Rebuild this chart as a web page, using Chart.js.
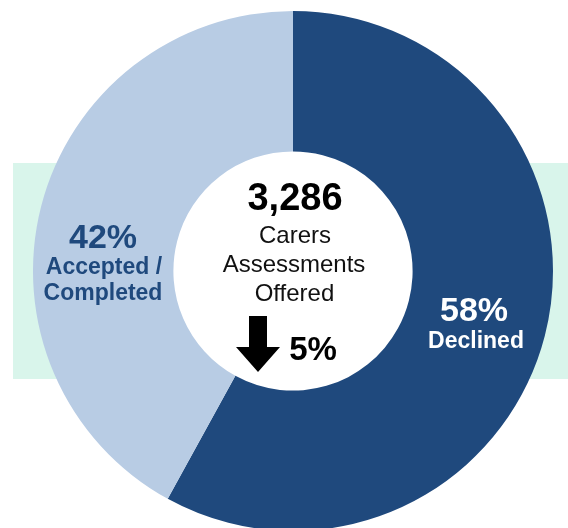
<!DOCTYPE html>
<html>
<head>
<meta charset="utf-8">
<script src="https://cdn.jsdelivr.net/npm/chart.js@4/dist/chart.umd.min.js"></script>
<style>
  html, body { margin:0; padding:0; }
  body { width:568px; height:528px; overflow:hidden; background:#ffffff; position:relative; font-family:'Liberation Sans', Arial, sans-serif; }
  .band { position:absolute; left:13px; top:163px; width:555px; height:216px; background:#d9f5eb; }
  .wrap { position:absolute; left:33px; top:11px; width:520px; height:520px; }
  .lbl { position:absolute; white-space:nowrap; line-height:1; transform:translateX(-50%); }
  .arrow { position:absolute; left:234px; top:316px; }
</style>
</head>
<body>
<div class="band"></div>
<div class="wrap"><canvas id="donut" width="520" height="520"></canvas></div>
<div id="labels"></div>
<svg class="arrow" width="48" height="58" viewBox="0 0 48 58">
  <polygon points="15,0 33,0 33,31 46,31 24,56 2,31 15,31" fill="#000"/>
</svg>
<script>
// slices, clockwise from 12 o'clock
const categories = ['Declined', 'Accepted / Completed'];
const shares     = [58, 42];
const colors     = ['#1f497d', '#b8cce4'];

const total      = '3,286';
const subtitle   = ['Carers', 'Assessments', 'Offered'];
const change     = '5%';

// white hole behind the cutout (band sits under the donut)
const holePlugin = {
  id: 'hole',
  beforeDatasetsDraw(chart) {
    const arc = chart.getDatasetMeta(0).data[0];
    if (!arc) return;
    const c = chart.ctx;
    c.save();
    c.beginPath();
    c.arc(arc.x, arc.y, arc.innerRadius + 1, 0, Math.PI * 2);
    c.fillStyle = '#ffffff';
    c.fill();
    c.restore();
  }
};

new Chart(document.getElementById('donut').getContext('2d'), {
  type: 'doughnut',
  data: {
    labels: categories,
    datasets: [{ data: shares, backgroundColor: colors, borderWidth: 0, hoverOffset: 0 }],
  },
  options: {
    responsive: false, animation: false, cutout: '46%', rotation: 0,
    layout: { padding: 0 },
    plugins: { legend: { display: false }, tooltip: { enabled: false } },
  },
  plugins: [holePlugin],
});

// text labels: [text, centre x, baseline y, size, weight, colour]
const labels = [
  [shares[1] + '%', 103, 247.5, 34, 'bold', '#1f497d'],
  ['Accepted /',    104, 274,   23, 'bold', '#1f497d'],
  ['Completed',     103, 300.5, 23, 'bold', '#1f497d'],
  [shares[0] + '%', 474, 321,   34, 'bold', '#ffffff'],
  [categories[0],   476, 348,   23, 'bold', '#ffffff'],
  [total,           295, 210,   38, 'bold', '#000000'],
  [subtitle[0],     295, 243,   24, 'normal', '#111111'],
  [subtitle[1],     294, 272.5, 24, 'normal', '#111111'],
  [subtitle[2],     294.5, 301.5, 24, 'normal', '#111111'],
  [change,          313, 360,   33, 'bold', '#000000'],
];
const host = document.getElementById('labels');
labels.forEach(([t, x, base, fs, w, col]) => {
  const d = document.createElement('div');
  d.className = 'lbl';
  d.textContent = t;
  d.style.cssText = `left:${x}px;top:${base - 0.8465 * fs}px;font-size:${fs}px;font-weight:${w};color:${col};`;
  host.appendChild(d);
});
</script>
</body>
</html>
